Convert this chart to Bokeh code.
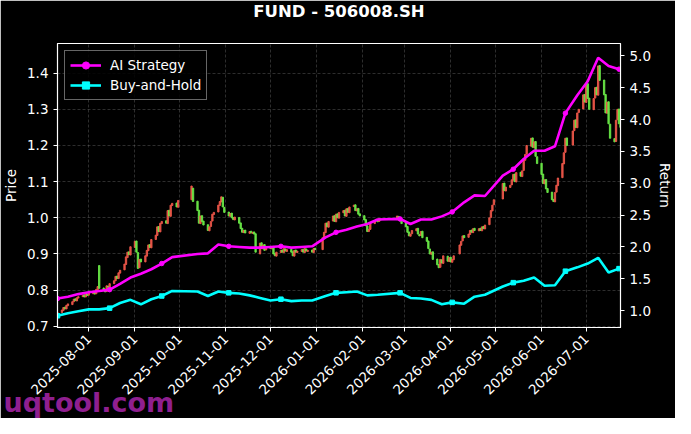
import pandas as pd
from bokeh.plotting import figure
from bokeh.models import (Range1d, LinearAxis, FixedTicker, PrintfTickFormatter,
                          DatetimeTickFormatter, Legend, LegendItem, Title, ColumnDataSource)
from bokeh.embed import file_html
from bokeh.resources import INLINE
from math import pi

title_text = "FUND - 506008.SH"
watermark_text = "uqtool.com"
first_day = "2025-07-11"
last_day = "2026-07-24"
holidays = ["2025-10-01", "2025-10-02", "2025-10-03", "2025-10-06", "2025-10-07", "2025-10-08",
            "2026-01-01", "2026-01-02",
            "2026-02-16", "2026-02-17", "2026-02-18", "2026-02-19", "2026-02-20", "2026-02-23",
            "2026-04-06", "2026-05-01", "2026-05-04", "2026-05-05", "2026-06-19"]
month_ticks = ["2025-08-01", "2025-09-01", "2025-10-01", "2025-11-01", "2025-12-01", "2026-01-01",
               "2026-02-01", "2026-03-01", "2026-04-01", "2026-05-01", "2026-06-01", "2026-07-01"]
price_ticks = [0.7, 0.8, 0.9, 1.0, 1.1, 1.2, 1.3, 1.4]
return_ticks = [1.0, 1.5, 2.0, 2.5, 3.0, 3.5, 4.0, 4.5, 5.0]

opens = [
    0.730,
    0.738, 0.744, 0.753, 0.748, 0.757,
    0.760, 0.768, 0.776, 0.770, 0.778,
    0.782, 0.787, 0.781, 0.789, 0.786,
    0.790, 0.796, 0.790, 0.801, 0.868,
    0.806, 0.801, 0.796, 0.811, 0.807,
    0.818, 0.826, 0.839, 0.832, 0.847,
    0.856, 0.871, 0.890, 0.906, 0.897,
    0.918, 0.936, 0.904, 0.862, 0.886,
    0.878, 0.894, 0.909, 0.926, 0.917,
    0.940, 0.951, 0.976, 0.961, 0.984,
    0.992, 0.984, 1.021, 1.004, 1.034,
    1.041, 1.029,
    1.050, 1.082,
    1.046, 1.021, 0.984, 1.006, 0.991,
    0.981, 0.964, 0.976, 0.991, 1.009,
    1.016, 1.034, 1.044, 1.057, 1.029,
    1.016, 1.004, 1.013, 1.001, 0.994,
    1.001, 0.986, 0.971, 0.959, 0.966,
    0.957, 0.963, 0.957, 0.961, 0.956,
    0.900, 0.931, 0.914, 0.926, 0.911,
    0.917, 0.914, 0.921, 0.901, 0.894,
    0.904, 0.911, 0.904, 0.914, 0.907,
    0.913, 0.906, 0.894, 0.911, 0.904,
    0.907, 0.913, 0.904, 0.914, 0.907,
    0.911, 0.904, 0.916,
    0.912, 0.944, 0.959, 0.986, 0.974,
    0.991, 1.006, 0.989, 1.011, 0.999,
    1.014, 1.021, 1.004, 1.026, 1.014,
    1.031, 1.036, 1.019, 1.026, 1.011,
    1.006, 0.995, 0.978, 0.962, 0.968,
    0.984, 0.991, 0.995, 0.990, 0.997,
    0.995, 1.004, 0.998, 0.990,
    0.986, 0.976, 0.961, 0.949, 0.956,
    0.964, 0.971, 0.954, 0.951, 0.963,
    0.946, 0.936, 0.914, 0.899, 0.906,
    0.886, 0.871, 0.863, 0.884, 0.874,
    0.894, 0.879, 0.891, 0.877, 0.884,
    0.900, 0.924, 0.936, 0.951,
    0.946, 0.954, 0.966, 0.959, 0.971,
    0.964, 0.971, 0.964, 0.976, 0.969,
    0.981, 1.001, 1.019, 1.036,
    1.052, 1.096, 1.074,
    1.084, 1.091, 1.104, 1.121, 1.099,
    1.126, 1.114, 1.131, 1.159, 1.176,
    1.198, 1.221, 1.194, 1.211, 1.169,
    1.151, 1.121, 1.094, 1.106, 1.081,
    1.071, 1.051, 1.044, 1.071, 1.089,
    1.111, 1.149, 1.181, 1.221,
    1.201, 1.241, 1.271, 1.249, 1.291,
    1.301, 1.341, 1.319, 1.371, 1.331,
    1.299, 1.331, 1.361, 1.339, 1.421,
    1.381, 1.341, 1.289, 1.321, 1.259,
    1.219, 1.211, 1.271, 1.301, 1.259,
]
closes = [
    0.738,
    0.745, 0.752, 0.748, 0.758, 0.762,
    0.768, 0.775, 0.771, 0.779, 0.782,
    0.786, 0.781, 0.790, 0.785, 0.792,
    0.795, 0.789, 0.802, 0.810, 0.805,
    0.800, 0.795, 0.812, 0.808, 0.818,
    0.826, 0.838, 0.832, 0.848, 0.855,
    0.872, 0.892, 0.905, 0.898, 0.920,
    0.935, 0.905, 0.860, 0.885, 0.878,
    0.895, 0.910, 0.925, 0.918, 0.940,
    0.952, 0.975, 0.962, 0.985, 0.990,
    0.985, 1.020, 1.005, 1.035, 1.040,
    1.030, 1.048,
    1.088, 1.045,
    1.020, 0.985, 1.005, 0.990, 0.980,
    0.965, 0.975, 0.990, 1.010, 1.015,
    1.035, 1.045, 1.058, 1.030, 1.015,
    1.005, 1.012, 1.000, 0.995, 1.002,
    0.985, 0.970, 0.960, 0.965, 0.958,
    0.962, 0.958, 0.960, 0.955, 0.905,
    0.930, 0.915, 0.925, 0.910, 0.918,
    0.915, 0.920, 0.900, 0.895, 0.905,
    0.910, 0.905, 0.915, 0.908, 0.912,
    0.905, 0.895, 0.910, 0.905, 0.908,
    0.912, 0.905, 0.915, 0.908, 0.910,
    0.905, 0.915, 0.912,
    0.945, 0.960, 0.985, 0.975, 0.990,
    1.005, 0.990, 1.010, 1.000, 1.015,
    1.020, 1.005, 1.025, 1.015, 1.030,
    1.035, 1.020, 1.025, 1.010, 1.005,
    0.994, 0.978, 0.962, 0.968, 0.985,
    0.992, 0.996, 0.989, 0.998, 0.994,
    1.005, 0.997, 0.991, 0.984,
    0.975, 0.960, 0.950, 0.955, 0.965,
    0.970, 0.955, 0.950, 0.962, 0.945,
    0.935, 0.915, 0.900, 0.905, 0.885,
    0.870, 0.862, 0.885, 0.875, 0.895,
    0.880, 0.890, 0.878, 0.885, 0.895,
    0.925, 0.935, 0.950, 0.945,
    0.955, 0.965, 0.960, 0.970, 0.965,
    0.970, 0.965, 0.975, 0.970, 0.980,
    1.000, 1.020, 1.035, 1.050,
    1.095, 1.075, 1.085,
    1.090, 1.105, 1.120, 1.100, 1.125,
    1.115, 1.130, 1.160, 1.175, 1.200,
    1.220, 1.195, 1.210, 1.170, 1.150,
    1.120, 1.095, 1.105, 1.080, 1.070,
    1.050, 1.045, 1.070, 1.090, 1.110,
    1.150, 1.180, 1.220, 1.200,
    1.240, 1.270, 1.250, 1.290, 1.300,
    1.340, 1.320, 1.370, 1.330, 1.300,
    1.330, 1.360, 1.340, 1.420, 1.380,
    1.340, 1.290, 1.320, 1.260, 1.220,
    1.210, 1.270, 1.300, 1.260, 1.250,
]
# return series, one value every 5 trading days plus the last day
ai_strategy = [1.19, 1.22, 1.26, 1.29, 1.31, 1.33, 1.42, 1.52, 1.58, 1.65,
               1.74, 1.84, 1.89, 1.90, 2.04, 2.01, 2.00, 1.99, 1.99, 2.00,
               2.01, 1.99, 2.00, 2.01, 2.15, 2.23, 2.27, 2.32, 2.36, 2.43,
               2.44, 2.36, 2.43, 2.43, 2.48, 2.55, 2.70, 2.81, 2.80, 3.12,
               3.22, 3.38, 3.51, 3.51, 3.58, 4.10, 4.38, 4.60, 4.97, 4.84,
               4.79, 4.79]
buy_hold = [0.92, 0.96, 0.99, 1.02, 1.02, 1.04, 1.12, 1.17, 1.10, 1.18,
            1.23, 1.31, 1.30, 1.23, 1.30, 1.28, 1.27, 1.24, 1.20, 1.16,
            1.18, 1.15, 1.16, 1.16, 1.23, 1.28, 1.29, 1.30, 1.24, 1.25,
            1.28, 1.20, 1.19, 1.17, 1.10, 1.13, 1.11, 1.22, 1.25, 1.38,
            1.44, 1.47, 1.52, 1.39, 1.40, 1.62, 1.68, 1.74, 1.83, 1.60,
            1.66, 1.65]

# ---- trading calendar ----
days = pd.bdate_range(first_day, last_day)
days = days[~days.isin(pd.to_datetime(holidays))]
n = min(len(days), len(opens), len(closes))
days = days[:n]
o = opens[:n]
c = closes[:n]
up = [ci >= oi for oi, ci in zip(o, c)]
UP_COLOR, DOWN_COLOR = "#f0584a", "#6cec48"
candles = ColumnDataSource(dict(
    x=list(days), top=[max(a, b) for a, b in zip(o, c)], bottom=[min(a, b) for a, b in zip(o, c)],
    color=[UP_COLOR if u else DOWN_COLOR for u in up]))

idx = list(range(0, n, 5))
if idx[-1] != n - 1:
    idx.append(n - 1)
m = min(len(idx), len(ai_strategy), len(buy_hold))
line_x = [days[i] for i in idx[:m]]
ai = ai_strategy[:m]
bh = buy_hold[:m]
mk = list(range(0, m, 5))

W, H = 675, 418
BL, BR, BT, BB = 54, 53, 43, 91

x0 = pd.Timestamp(first_day)
x1 = pd.Timestamp(last_day)
p = figure(width=W, height=H, x_axis_type="datetime",
           x_range=Range1d(x0, x1), y_range=Range1d(0.6967, 1.482),
           output_backend="svg", toolbar_location=None,
           min_border_left=BL, min_border_right=BR, min_border_top=BT, min_border_bottom=BB,
           background_fill_color="black", border_fill_color="black")
p.outline_line_color = "white"
p.outline_line_width = 1.2

p.extra_y_ranges = {"ret": Range1d(0.736, 5.193)}
ret_axis = LinearAxis(y_range_name="ret", axis_label="Return")
p.add_layout(ret_axis, "right")

for ax in [p.xaxis[0], p.yaxis[0], ret_axis]:
    ax.axis_line_color = "white"
    ax.major_tick_line_color = "white"
    ax.minor_tick_line_color = None
    ax.major_tick_out = 4
    ax.major_tick_in = 0
    ax.major_label_text_color = "white"
    ax.major_label_text_font = "DejaVu Sans"
    ax.major_label_text_font_size = "13.5px"
    ax.axis_label_text_color = "white"
    ax.axis_label_text_font = "DejaVu Sans"
    ax.axis_label_text_font_size = "13.5px"
    ax.axis_label_text_font_style = "normal"

p.xaxis.ticker = FixedTicker(ticks=[pd.Timestamp(t).value / 1e6 for t in month_ticks])
p.xaxis.formatter = DatetimeTickFormatter(days="%Y-%m-%d", months="%Y-%m-%d", years="%Y-%m-%d",
                                          hours="%Y-%m-%d")
p.xaxis.major_label_orientation = pi / 4
p.yaxis[0].ticker = FixedTicker(ticks=price_ticks)
p.yaxis[0].formatter = PrintfTickFormatter(format="%.1f")
p.yaxis[0].axis_label = "Price"
p.yaxis[0].axis_label_standoff = 5
ret_axis.ticker = FixedTicker(ticks=return_ticks)
ret_axis.formatter = PrintfTickFormatter(format="%.1f")
ret_axis.axis_label_standoff = 3

p.xgrid.grid_line_color = "#8a8a8a"
p.ygrid.grid_line_color = "#8a8a8a"
p.xgrid.grid_line_alpha = 0.55
p.ygrid.grid_line_alpha = 0.55
p.xgrid.grid_line_dash = "3 2"
p.ygrid.grid_line_dash = "3 2"
p.xgrid.grid_line_width = 0.6
p.ygrid.grid_line_width = 0.6
p.xgrid.ticker = p.xaxis[0].ticker
p.ygrid.ticker = p.yaxis[0].ticker

day_ms = 86400000
p.vbar(x="x", top="top", bottom="bottom", width=0.9 * day_ms, color="color",
       alpha=0.9, source=candles)

l1 = p.line(line_x, ai, line_color="#ff00ff", line_width=2.6, y_range_name="ret")
m1 = p.scatter([line_x[i] for i in mk], [ai[i] for i in mk], marker="circle", size=4.5,
               color="#ff00ff", y_range_name="ret")
l2 = p.line(line_x, bh, line_color="#00ffff", line_width=2.6, y_range_name="ret")
m2 = p.scatter([line_x[i] for i in mk], [bh[i] for i in mk], marker="square", size=4.5,
               color="#00ffff", y_range_name="ret")

legend = Legend(items=[LegendItem(label="AI Strategy", renderers=[l1, m1]),
                       LegendItem(label="Buy-and-Hold", renderers=[l2, m2])],
                location="top_left")
legend.background_fill_color = "black"
legend.background_fill_alpha = 0.85
legend.border_line_color = "#cccccc"
legend.border_line_width = 1
legend.label_text_color = "white"
legend.label_text_font = "DejaVu Sans"
legend.label_text_font_size = "13.5px"
legend.glyph_width = 31
legend.glyph_height = 18
legend.label_height = 18
legend.label_standoff = 9
legend.padding = 5
legend.spacing = 2
legend.margin = 7
p.add_layout(legend)

# title: a small spacer next to the frame, then the title itself
spacer = Title(text=" ", text_font_size="1px", standoff=20.5, text_color="black")
p.add_layout(spacer, "above")
main_title = Title(text=title_text, align="center", vertical_align="bottom", standoff=-2,
                   text_color="white", text_font="DejaVu Sans", text_font_size="16.5px",
                   text_font_style="bold")
p.add_layout(main_title, "above")

# watermark, drawn over the bottom-left of the date labels
wm = Title(text=watermark_text, align="left", vertical_align="middle", offset=-54, standoff=-40,
           text_color="#8f1f8f", text_font="DejaVu Sans", text_font_size="27px",
           text_font_style="bold")
p.add_layout(wm, "below")

open("out.html", "w").write(file_html(p, INLINE))
